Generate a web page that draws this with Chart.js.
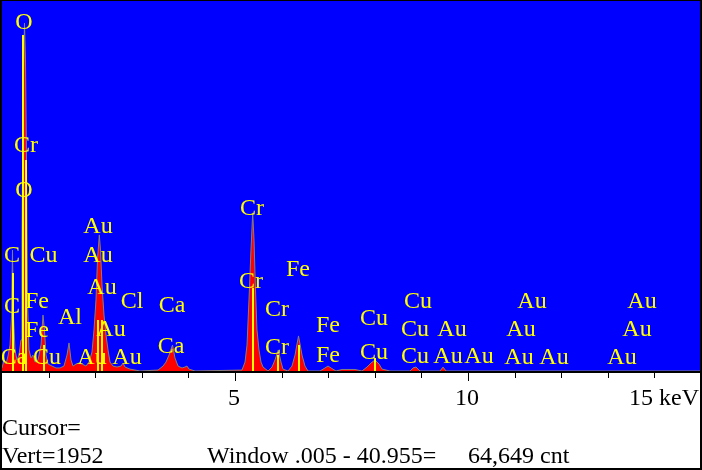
<!DOCTYPE html>
<html>
<head>
<meta charset="utf-8">
<script src="https://cdn.jsdelivr.net/npm/chart.js@4.4.0/dist/chart.umd.min.js"></script>
<style>
    html, body { margin: 0; padding: 0; background: #fff; }
    #wrap { width: 702px; height: 470px; }
</style>
</head>
<body>
<div id="wrap"><canvas id="spectrum" width="702" height="470"></canvas></div>
<script>
// spectrum vertices (keV, counts)
const energy = [0.00, 0.043, 0.086, 0.129, 0.172, 0.204, 0.225, 0.247, 0.279, 0.322, 0.365, 0.408, 0.429, 0.451, 0.483, 0.504, 0.526, 0.547, 0.579, 0.622,
    0.665, 0.708, 0.773, 0.837, 0.880, 0.912, 0.944, 0.987, 1.073, 1.159, 1.245, 1.330, 1.395, 1.438, 1.481, 1.524, 1.588, 1.652, 1.717, 1.803,
    1.867, 1.931, 1.974, 2.017, 2.049, 2.088, 2.114, 2.146, 2.189, 2.232, 2.275, 2.318, 2.382, 2.468, 2.554, 2.597, 2.639, 2.747, 2.961, 3.348,
    3.455, 3.519, 3.584, 3.659, 3.712, 3.777, 3.863, 3.927, 3.970, 4.013, 4.142, 5.150, 5.215, 5.258, 5.300, 5.343, 5.380, 5.408, 5.440, 5.472,
    5.515, 5.558, 5.601, 5.708, 5.794, 5.858, 5.929, 5.987, 6.030, 6.137, 6.223, 6.288, 6.363, 6.438, 6.502, 6.567, 6.824, 6.931, 6.996, 7.060,
    7.167, 7.296, 7.575, 7.725, 7.833, 7.918, 8.004, 8.090, 8.155, 8.326, 8.755, 8.820, 8.884, 8.970, 9.399, 9.464, 9.528, 10.04, 14.98];
const counts = [16, 58, 37, 79, 137, 285, 638, 285, 111, 58, 84, 164, 691, 1430, 1836, 1641, 1113, 375, 111, 69,
    84, 47, 58, 137, 295, 216, 84, 37, 26, 16, 16, 26, 84, 148, 58, 26, 37, 42, 37, 26,
    47, 100, 216, 375, 586, 718, 638, 454, 295, 190, 111, 47, 26, 21, 26, 42, 21, 10, 0, 5,
    26, 47, 84, 137, 69, 26, 16, 21, 26, 10, 0, 5, 47, 137, 375, 638, 834, 691, 427, 216,
    111, 47, 21, 0, 21, 58, 111, 47, 10, 0, 26, 84, 185, 84, 26, 0, 0, 16, 26, 16,
    0, 8, 8, 0, 21, 42, 58, 37, 10, 0, 0, 16, 21, 0, 0, 21, 0, 0, 0];

const xMin = 0;
const xMax = 15;
const yMax = 1952;

const tickValues = [1, 2, 3, 4, 5, 6, 7, 8, 9, 10, 11, 12, 13, 14];
const majorTicks = [5, 10];
const tickLabelValues = [5, 10, 15];
const tickLabelTexts = ['5', '10', '15 keV'];

// element labels: text, keV, height in counts
const labelText = ['O', 'Cr', 'O', 'C', 'Cu', 'C', 'Fe', 'Fe', 'Ca', 'Cu', 'Al', 'Au', 'Au', 'Au', 'Au', 'Au', 'Au', 'Cl', 'Ca', 'Ca',
    'Cr', 'Cr', 'Cr', 'Cr', 'Fe', 'Fe', 'Fe', 'Cu', 'Cu', 'Cu', 'Cu', 'Cu', 'Au', 'Au', 'Au', 'Au', 'Au', 'Au', 'Au', 'Au', 'Au', 'Au'];
const labelEnergy = [0.472, 0.515, 0.472, 0.215, 0.891, 0.215, 0.751, 0.751, 0.258, 0.966, 1.459, 2.060, 2.060, 2.146, 2.339, 1.931, 2.682, 2.790, 3.648, 3.627,
    5.365, 5.343, 5.901, 5.901, 6.352, 6.996, 6.996, 7.983, 7.983, 8.927, 8.863, 8.863, 9.657, 9.571, 10.236, 11.373, 11.137, 11.094, 11.845, 13.734, 13.627, 13.305];
const labelCount = [1847, 1198, 960, 617, 617, 348, 375, 222, 79, 79, 290, 770, 617, 448, 227, 79, 79, 375, 353, 137,
    865, 480, 332, 132, 543, 248, 90, 285, 106, 375, 227, 84, 227, 84, 84, 375, 227, 79, 79, 375, 227, 79];

// yellow line markers
const markerEnergy = [0.236, 0.457, 0.515, 0.901, 2.060, 2.146, 5.376, 5.929, 6.363, 8.004];
const markerTop = [517, 1773, 1113, 137, 269, 269, 438, 84, 137, 69];

const cursorText = 'Cursor=';
const vertText = 'Vert=1952';
const windowText = 'Window .005 - 40.955=';
const cntText = '64,649 cnt';

const serif = '"Liberation Serif", "Times New Roman", serif';

const edsPlugin = {
    id: 'eds',
    beforeDraw(chart) {
        const { ctx, chartArea: a } = chart;
        ctx.save();
        ctx.fillStyle = '#ffffff';
        ctx.fillRect(0, 0, chart.width, chart.height);
        ctx.fillStyle = '#0000ff';
        ctx.fillRect(a.left, a.top, a.right - a.left, a.bottom - a.top);
        ctx.restore();
    },
    afterDatasetsDraw(chart) {
        const { ctx } = chart;
        const xs = chart.scales.x;
        const ys = chart.scales.y;
        ctx.save();
        ctx.strokeStyle = '#ffff00';
        ctx.lineWidth = 2;
        markerEnergy.forEach((e, i) => {
            const px = Math.round(xs.getPixelForValue(e));
            ctx.beginPath();
            ctx.moveTo(px, ys.getPixelForValue(0));
            ctx.lineTo(px, ys.getPixelForValue(markerTop[i]));
            ctx.stroke();
        });
        ctx.fillStyle = '#ffff00';
        ctx.font = '24px ' + serif;
        ctx.textAlign = 'center';
        ctx.textBaseline = 'alphabetic';
        labelText.forEach((t, i) => {
            ctx.fillText(t, xs.getPixelForValue(labelEnergy[i]), ys.getPixelForValue(labelCount[i]) + 8);
        });
        ctx.restore();
    },
    afterDraw(chart) {
        const { ctx, chartArea: a } = chart;
        const xs = chart.scales.x;
        ctx.save();
        ctx.fillStyle = '#000000';
        // axis line
        ctx.fillRect(0, a.bottom, chart.width, 2);
        tickValues.forEach(v => {
            const px = Math.round(xs.getPixelForValue(v));
            const len = majorTicks.includes(v) ? 8 : 5;
            ctx.fillRect(px, a.bottom + 2, 1, len);
        });
        ctx.font = '24px ' + serif;
        ctx.textBaseline = 'alphabetic';
        tickLabelValues.forEach((v, i) => {
            const px = xs.getPixelForValue(v);
            if (v === xMax) {
                ctx.textAlign = 'right';
                ctx.fillText(tickLabelTexts[i], px - 2, 405);
            } else {
                ctx.textAlign = 'center';
                ctx.fillText(tickLabelTexts[i], px - 1, 405);
            }
        });
        ctx.textAlign = 'left';
        ctx.fillText(cursorText, 2, 435);
        ctx.fillText(vertText, 2, 463);
        ctx.fillText(windowText, 207, 463);
        ctx.fillText(cntText, 468, 463);
        // frame
        ctx.fillRect(0, 0, 2, chart.height);
        ctx.fillRect(0, 0, chart.width, 1);
        ctx.fillRect(chart.width - 2, 0, 2, chart.height);
        ctx.fillRect(0, chart.height - 2, chart.width, 2);
        ctx.restore();
    }
};

function initializeChart() {
    const ctx = document.getElementById('spectrum').getContext('2d');
    new Chart(ctx, {
        type: 'line',
        data: {
            datasets: [{
                data: energy.map((e, i) => ({ x: e, y: counts[i] })),
                borderColor: '#808080',
                borderWidth: 1,
                backgroundColor: '#ff0000',
                fill: 'origin',
                pointRadius: 0,
                tension: 0
            }]
        },
        options: {
            responsive: false,
            animation: false,
            devicePixelRatio: 1,
            layout: { padding: { left: 2, right: 1, top: 1, bottom: 99 } },
            plugins: {
                legend: { display: false },
                tooltip: { enabled: false }
            },
            scales: {
                x: { type: 'linear', min: xMin, max: xMax, display: false },
                y: { min: 0, max: yMax, display: false }
            }
        },
        plugins: [edsPlugin]
    });
}

document.addEventListener('DOMContentLoaded', initializeChart);
</script>
</body>
</html>
